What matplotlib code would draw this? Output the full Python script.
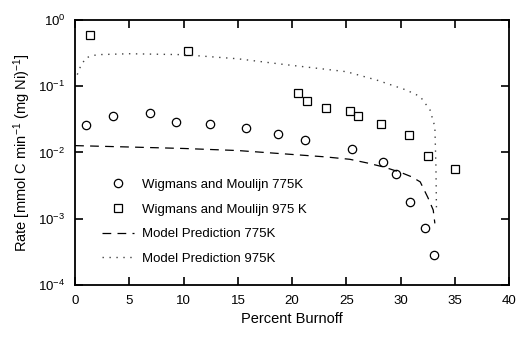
import matplotlib
matplotlib.use('Agg')
import matplotlib.pyplot as plt
from matplotlib.ticker import LogLocator, NullLocator, MultipleLocator

plt.rcParams['font.family'] = ['Liberation Sans', 'DejaVu Sans']
plt.rcParams['mathtext.default'] = 'regular'

# Wigmans and Moulijn 775K data
x_775 = [1.0, 3.5, 6.9, 9.3, 12.4, 15.75, 18.7, 21.2, 25.5, 28.4, 29.6, 30.9, 32.2, 33.1]
y_775 = [0.026, 0.0356, 0.040, 0.0292, 0.0267, 0.0237, 0.019, 0.0155, 0.0112,
         0.0073, 0.0047, 0.00177, 0.00073, 0.000284]

# Wigmans and Moulijn 975K data
x_975 = [1.4, 10.4, 20.5, 21.4, 23.1, 25.3, 26.1, 28.2, 30.8, 32.5, 35.05]
y_975 = [0.594, 0.344, 0.078, 0.060, 0.0465, 0.0428, 0.0356, 0.0267, 0.0182, 0.0090, 0.0056]

# Model prediction 775K
x_m775 = [0, 5, 10, 15, 19, 23, 25.3, 27, 28.5, 30, 31, 31.8, 32.5, 33.0, 33.15]
y_m775 = [0.0127, 0.0121, 0.0115, 0.0107, 0.0096, 0.0086, 0.0079, 0.0069, 0.0060,
          0.0050, 0.0043, 0.0036, 0.0021, 0.00135, 0.00085]

# Model prediction 975K
x_m975 = [0.2, 0.5, 1.0, 2.0, 5, 10, 15, 19.2, 22.3, 25, 27.8, 30.5, 31.8, 32.7,
          33.15, 33.25, 33.3]
y_m975 = [0.15, 0.2, 0.27, 0.30, 0.31, 0.30, 0.26, 0.214, 0.187, 0.166, 0.124,
          0.088, 0.070, 0.044, 0.0245, 0.006, 0.0013]

fig = plt.figure(figsize=(5.18, 3.40), dpi=100)
ax = fig.add_axes([0.145, 0.162, 0.838, 0.779])

ax.plot(x_775, y_775, 'o', ms=6, mfc='none', mec='black', mew=0.9,
        label='Wigmans and Moulijn 775K')
ax.plot(x_975, y_975, 's', ms=6, mfc='none', mec='black', mew=0.9,
        label='Wigmans and Moulijn 975 K')
ax.plot(x_m775, y_m775, color='black', lw=0.9, linestyle=(0, (7, 5)),
        label='Model Prediction 775K')
ax.plot(x_m975, y_m975, color='#444444', lw=1.0, linestyle=(0, (1, 4)),
        label='Model Prediction 975K')

ax.set_yscale('log')
ax.set_xlim(0, 40)
ax.set_ylim(1e-4, 1)
ax.xaxis.set_major_locator(MultipleLocator(5))
ax.yaxis.set_major_locator(LogLocator(base=10, numticks=10))
ax.yaxis.set_minor_locator(NullLocator())
ax.tick_params(direction='in', length=6, width=1.2, top=True, right=True,
               labelsize=9.5, pad=7)
for s in ax.spines.values():
    s.set_linewidth(1.3)

ax.set_xlabel('Percent Burnoff', fontsize=10.5, labelpad=4)
ax.set_ylabel('Rate [mmol C min$^{-1}$ (mg Ni)$^{-1}$]', fontsize=10.5, labelpad=4)

ax.legend(loc='lower left', bbox_to_anchor=(0.035, 0.03), frameon=False,
          fontsize=9.5, handlelength=2.4, labelspacing=0.95, handletextpad=0.6)

fig.savefig('out.png', dpi=100)
